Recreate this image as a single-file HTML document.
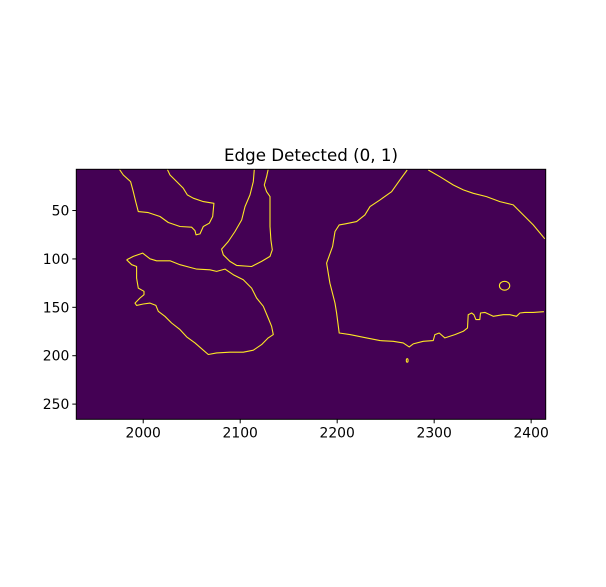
<!DOCTYPE html>
<html><head><meta charset="utf-8"><style>
body{margin:0;background:#fff;}
svg text{font-family:"DejaVu Sans","Liberation Sans",sans-serif;}
</style></head><body>
<svg id="chart" width="606" height="582" viewBox="0 0 606 582" xmlns="http://www.w3.org/2000/svg">
<rect width="606" height="582" fill="#fff"/>
<text x="311" y="161" font-size="16.7" text-anchor="middle" fill="#000">Edge Detected (0, 1)</text>
<g id="plot"></g>
</svg>
<script>
const xDomain=[1931,2415], yDomain=[7.4,265.7];
const xTicks=[2000,2100,2200,2300,2400];
const yTicks=[50,100,150,200,250];
const edgeA=[[1975.4,7.4],[1979.5,13.3],[1987.0,20.1],[1989.8,30.5],[1992.2,40.8],[1994.9,51.1],[2005.2,52.1],[2017.3,56.2],[2025.9,62.4],[2037.9,66.5],[2049.9,67.2],[2053.4,70.7],[2054.4,75.1],[2058.5,74.1],[2061.9,66.5],[2068.1,63.1],[2071.6,56.2],[2072.9,42.5],[2061.9,40.8],[2051.6,37.3],[2045.5,33.9],[2041.3,27.0],[2034.5,20.1],[2027.6,13.3],[2024.8,7.4]];
const edgeB=[[2114.5,7.4],[2113.5,20.1],[2110.1,33.9],[2104.9,45.9],[2101.5,59.7],[2094.6,71.7],[2087.7,82.0],[2080.8,89.9],[2082.6,95.7],[2089.4,102.6],[2096.3,106.7],[2111.8,107.8],[2122.1,102.6],[2130.7,97.4],[2133.1,90.6],[2131.7,80.3],[2130.7,66.5],[2130.7,35.6],[2127.2,30.5],[2124.8,23.6],[2127.2,15.0],[2128.9,7.4]];
const edgeC=[[1982.9,100.9],[1989.8,97.4],[1999.4,94.0],[2007.0,99.9],[2013.8,101.9],[2027.6,101.9],[2037.9,106.0],[2048.2,108.8],[2055.1,110.5],[2068.8,111.2],[2075.7,112.9],[2084.3,110.5],[2092.9,116.3],[2103.2,121.5],[2111.8,130.1],[2116.9,140.4],[2123.8,149.0],[2128.9,161.0],[2132.4,169.6],[2134.1,178.2],[2128.9,181.6],[2122.1,188.5],[2113.5,194.3],[2103.2,196.4],[2089.4,196.4],[2075.7,197.1],[2067.1,198.8],[2061.9,194.3],[2053.4,186.8],[2044.8,180.6],[2037.9,173.0],[2029.3,166.2],[2022.4,159.3],[2015.6,154.1],[2013.1,148.0],[2007.0,145.6],[2000.1,146.6],[1993.2,148.0],[1991.5,145.6],[1996.7,140.4],[2000.8,137.0],[2000.8,133.5],[1994.9,130.1],[1993.2,119.8],[1993.2,107.8],[1988.1,106.0],[1982.9,100.9]];
const edgeD=[[2272.2,8.1],[2264.7,18.4],[2256.1,30.5],[2244.1,39.0],[2233.8,45.9],[2228.6,54.5],[2220.0,61.4],[2208.0,63.8],[2202.1,64.8],[2197.7,71.7],[2195.3,87.1],[2189.1,104.3],[2192.5,125.0],[2197.7,145.6],[2199.4,155.9],[2202.1,176.5],[2213.1,178.2],[2230.3,181.6],[2244.1,184.4],[2257.8,185.1],[2268.1,186.8],[2274.3,190.9],[2278.4,187.8],[2288.7,185.1],[2299.0,184.4],[2300.8,178.2],[2305.2,176.5],[2311.1,181.6],[2321.4,178.2],[2330.0,174.8],[2334.4,171.3],[2335.1,157.6],[2338.6,155.9],[2341.0,157.6],[2343.0,162.7],[2347.1,162.7],[2347.8,155.9],[2352.3,155.2],[2360.9,159.3],[2371.2,157.6],[2378.1,157.6],[2384.9,159.3],[2388.4,155.9],[2393.5,155.2],[2402.1,155.2],[2413.1,154.5]];
const edgeE=[[2293.9,8.1],[2305.9,15.0],[2319.7,23.6],[2330.0,28.7],[2340.3,32.2],[2354.0,35.6],[2367.8,40.8],[2381.5,44.2],[2391.8,54.5],[2402.1,64.8],[2414.1,79.2]];
const blobs=[[2372.6,127.7,5.3,4.6],[2272.2,204.9,0.9,1.8]];
const L=76.3,R=545.7,T=169.3,B=419.3;
const sx=v=>L+(v-xDomain[0])/(xDomain[1]-xDomain[0])*(R-L);
const sy=v=>T+(v-yDomain[0])/(yDomain[1]-yDomain[0])*(B-T);
const sr=v=>v*(R-L)/(xDomain[1]-xDomain[0]);
const NS="http://www.w3.org/2000/svg";
const g=document.getElementById('plot');
function mk(t,a){const e=document.createElementNS(NS,t);for(const k in a)e.setAttribute(k,a[k]);g.appendChild(e);return e;}
const bg=mk('rect',{x:L,y:T,width:R-L,height:B-T,fill:'#440154'});


const edges=[['edge-a',edgeA],['edge-b',edgeB],['edge-c',edgeC],['edge-d',edgeD],['edge-e',edgeE]];
edges.forEach(([n,pts])=>{
 const p=mk('polyline',{points:pts.map(q=>sx(q[0]).toFixed(1)+','+sy(q[1]).toFixed(1)).join(' '),fill:'none',stroke:'#fde725','stroke-width':1.1,'stroke-linejoin':'round'});
 
 
});
blobs.forEach((b,i)=>{
 const e=mk('ellipse',{cx:sx(b[0]),cy:sy(b[1]),rx:sr(b[2]),ry:sr(b[3]),fill:'none',stroke:'#fde725','stroke-width':1.1});
 
 
});
const fr=mk('rect',{x:L,y:T,width:R-L,height:B-T,fill:'none',stroke:'#000','stroke-width':1});


xTicks.forEach(t=>{
 const x=sx(t);
 const l=mk('line',{x1:x,x2:x,y1:B,y2:B+4,stroke:'#000'});
 
 
 const tx=mk('text',{x:x,y:B+18,'font-size':13.9,'text-anchor':'middle',fill:'#000'});
 tx.textContent=t;
 
 
});
yTicks.forEach(t=>{
 const y=sy(t);
 const l=mk('line',{x1:L-4,x2:L,y1:y,y2:y,stroke:'#000'});
 
 
 const tx=mk('text',{x:L-7,y:y+5,'font-size':13.9,'text-anchor':'end',fill:'#000'});
 tx.textContent=t;
 
 
});
</script>
</body></html>
